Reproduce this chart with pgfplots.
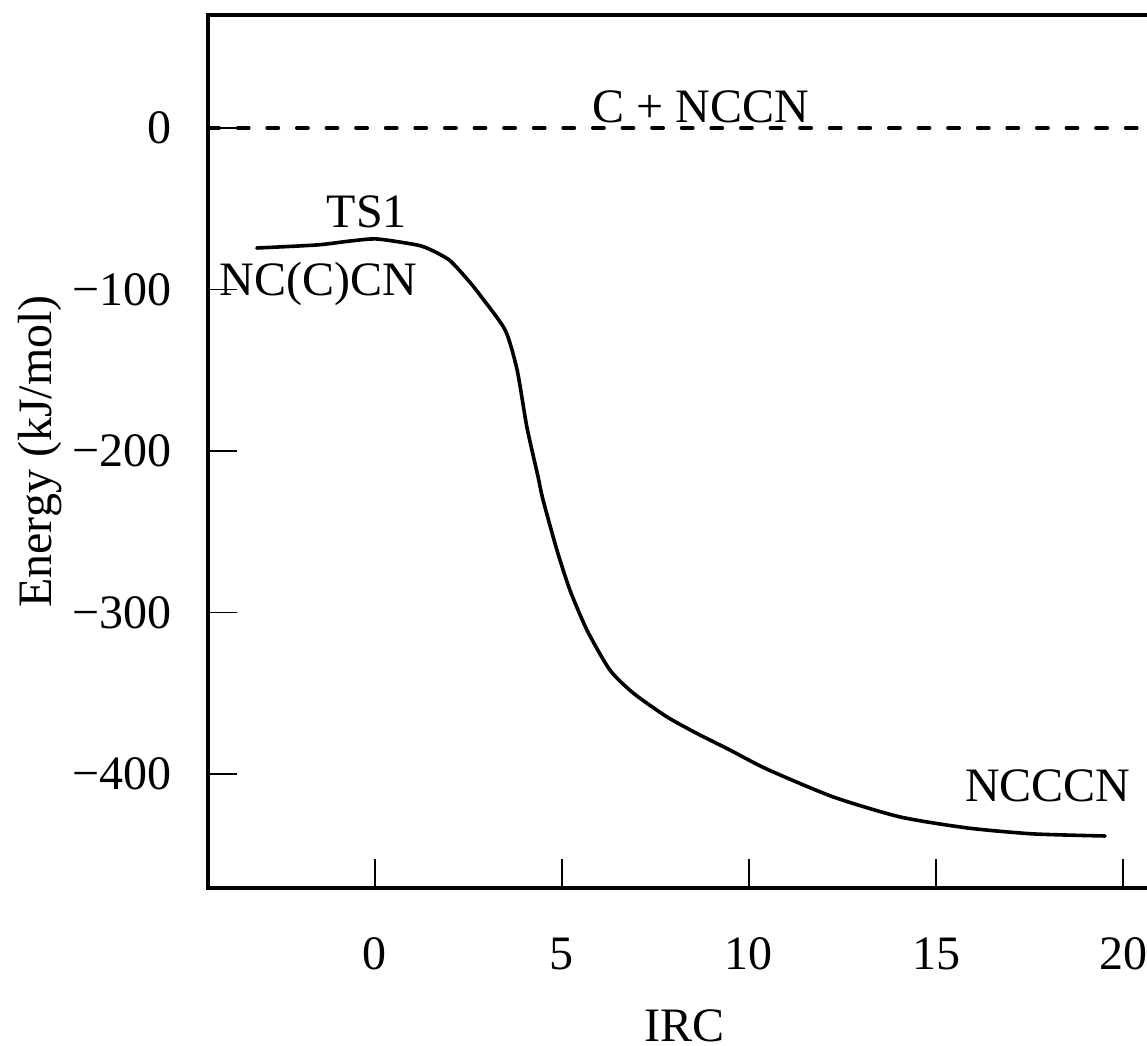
\documentclass[border=0pt]{standalone}
\usepackage{fontspec}
\setmainfont{Liberation Serif}
\usepackage{pgfplots}
\pgfplotsset{compat=1.18}

\begin{document}
\begin{tikzpicture}[font=\fontsize{12}{14}\selectfont]
\begin{axis}[
  name=ax,
  scale only axis, width=238.1pt, height=218.25pt,
  xmin=-4.465, xmax=21, ymin=-470.6, ymax=70,
  axis line style={line width=0.9pt},
  tick pos=left, tick align=inside,
  major tick length=7.2pt,
  every tick/.style={black, line width=0.4pt},
  xtick={0,5,10,15,20}, xticklabels={0,5,10,15,20},
  ytick={0,-100,-200,-300,-400}, yticklabels={0,−100,−200,−300,−400},
  xticklabel style={anchor=base, yshift=-20.5pt},
  yticklabel style={anchor=east, inner sep=0pt, xshift=-9pt},
  tick label style={font=\fontsize{12}{14}\selectfont},
  label style={font=\fontsize{12}{14}\selectfont},
  xlabel={IRC}, ylabel={Energy (kJ/mol)},
  xlabel style={at={(axis description cs:0.5,-0.1755)}, anchor=base, inner sep=0pt},
  ylabel style={at={(axis description cs:-0.1645,0.5)}, anchor=base, inner sep=0pt},
]
% asymptote C + NCCN
\addplot[black, line width=0.9pt, line cap=round, dash pattern=on 2.8pt off 4.6pt]
  coordinates {(-4.465,0) (21,0)};
% IRC profile
\addplot[black, line width=0.9pt, line cap=round, line join=round, smooth, tension=0.4] coordinates {
  (-3.16,-74.3) (-1.55,-72.4) (-0.67,-70.0) (0.05,-68.7) (1.12,-72.4)
  (1.50,-75.5) (2.00,-82.0) (2.50,-94.5) (2.81,-103.5) (3.48,-125.1)
  (3.80,-149.8) (4.06,-185) (4.36,-216) (4.49,-230)
  (4.86,-261) (5.21,-286) (5.67,-311) (6.28,-335.6) (6.90,-349.8)
  (7.81,-364.7) (8.69,-375.9) (9.41,-384.2) (10.48,-397.0) (12.25,-414.2)
  (14.04,-426.6) (15.83,-433.4) (17.59,-437.1) (19.52,-438.4) };
\node[anchor=base] at (axis cs:8.72,3.2) {C + NCCN};
\node[anchor=base] at (axis cs:-0.22,-61.3) {TS1};
\node[anchor=base] at (axis cs:-1.52,-103.4) {NC(C)CN};
\node[anchor=base] at (axis cs:17.99,-417.3) {NCCCN};
\end{axis}
\pgfresetboundingbox
\useasboundingbox ([xshift=-52pt,yshift=-39.5pt]ax.south west)
  rectangle ([xshift=-3.35pt,yshift=3.75pt]ax.north east);
\end{tikzpicture}
\end{document}
